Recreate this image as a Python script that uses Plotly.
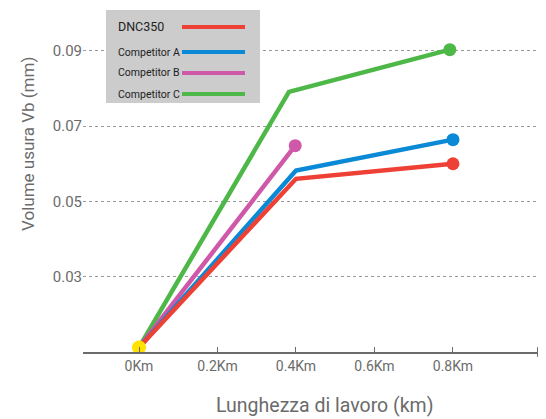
import plotly.graph_objects as go

# ---- data ----
series_names = ["DNC350", "Competitor A", "Competitor B", "Competitor C"]
series_colors = ["#ee4035", "#0a8ad6", "#cf58a8", "#4db848"]
dnc350_x = [0, 0.40, 0.80]
dnc350_y = [0.0112, 0.0560, 0.0600]
compA_x = [0, 0.40, 0.80]
compA_y = [0.0112, 0.0582, 0.0664]
compB_x = [0, 0.398]
compB_y = [0.0112, 0.0648]
compC_x = [0, 0.382, 0.792]
compC_y = [0.0112, 0.0791, 0.0903]
start_x = [0]
start_y = [0.0112]
x_tickvals = [0, 0.2, 0.4, 0.6, 0.8]
x_ticktext = ["0Km", "0.2Km", "0.4Km", "0.6Km", "0.8Km"]
y_tickvals = [0.03, 0.05, 0.07, 0.09]
y_ticktext = ["0.03", "0.05", "0.07", "0.09"]

FONT = "Roboto, Arial, sans-serif"
GRAY = "#6b6b6b"

OFFX, OFFY = 8, 5  # page offsets
W, H = 546 - OFFX, 419 - 8
ML, MR, MT = 83 - OFFX, 0, 25 - OFFY
MB = H - (349 - OFFY)
PW, PH = W - ML - MR, H - MT - MB

def px(xs):
    return (xs - OFFX - ML) / PW

def py(ys):
    return (H - MB - (ys - OFFY)) / PH

fig = go.Figure()
all_x = [dnc350_x, compA_x, compB_x, compC_x]
all_y = [dnc350_y, compA_y, compB_y, compC_y]
order = [3, 2, 1, 0]
for i in order:
    xs, ys = all_x[i], all_y[i]
    fig.add_trace(go.Scatter(
        x=xs, y=ys, mode="lines", name=series_names[i],
        line=dict(color=series_colors[i], width=4.5), showlegend=False,
        hoverinfo="skip"))
    fig.add_trace(go.Scatter(
        x=[xs[-1]], y=[ys[-1]], mode="markers",
        marker=dict(color=series_colors[i], size=13), showlegend=False,
        hoverinfo="skip"))
fig.add_trace(go.Scatter(x=start_x, y=start_y, mode="markers",
                         marker=dict(color="#ffe200", size=14), showlegend=False))

# legend box (manual, labels left of line swatches)
shapes = [dict(type="rect", xref="paper", yref="paper",
               x0=px(106), x1=px(260), y0=py(100), y1=py(7),
               fillcolor="#cccccc", line=dict(width=0), layer="above")]
annotations = []
leg_y = [24, 49, 70, 91]
for i, name in enumerate(series_names):
    shapes.append(dict(type="line", xref="paper", yref="paper",
                       x0=px(182), x1=px(245), y0=py(leg_y[i]), y1=py(leg_y[i]),
                       line=dict(color=series_colors[i], width=4), layer="above"))
    annotations.append(dict(
        x=px(117), y=py(leg_y[i]), xref="paper", yref="paper",
        text=name, showarrow=False, xanchor="left", yanchor="middle", xshift=-1,
        font=dict(family=FONT, size=12.5 if i == 0 else 10.5, color="#222222")))

# axis titles
annotations.append(dict(
    x=px(28), y=py(141), xref="paper", yref="paper", text="Volume usura Vb (mm)",
    textangle=-90, showarrow=False, xanchor="center", yanchor="middle",
    font=dict(family=FONT, size=17, color=GRAY)))
annotations.append(dict(
    x=px(324), y=py(402), xref="paper", yref="paper", text="Lunghezza di lavoro (km)",
    showarrow=False, xanchor="center", yanchor="middle",
    font=dict(family=FONT, size=19.5, color=GRAY)))

# arrow head at end of x axis
shapes.append(dict(type="path", xref="paper", yref="paper",
                   path=f"M {px(537)},{py(344)} L {px(546)},{py(349)} L {px(537)},{py(354)} Z",
                   fillcolor=GRAY, line=dict(width=0), layer="above"))

fig.update_layout(
    width=W, height=H,
    margin=dict(l=ML, r=MR, t=MT, b=MB),
    plot_bgcolor="white", paper_bgcolor="white",
    font=dict(family=FONT, color=GRAY),
    shapes=shapes, annotations=annotations,
    xaxis=dict(
        range=[-0.1427, 1.037], tickvals=x_tickvals, ticktext=x_ticktext,
        showgrid=False, zeroline=False, showline=True, linecolor=GRAY, linewidth=1.5,
        ticks="inside", ticklen=5, tickcolor=GRAY, tickwidth=1,
        tickfont=dict(size=14, color=GRAY),
    ),
    yaxis=dict(
        range=[0.01, 0.01 + PH / 75.3 * 0.02], tickvals=y_tickvals, ticktext=y_ticktext,
        showgrid=True, gridcolor="#999999", griddash="dot", gridwidth=1,
        zeroline=False, showline=False, ticks="",
        tickfont=dict(size=15, color=GRAY),
    ),
)

fig.write_html("out.html")
